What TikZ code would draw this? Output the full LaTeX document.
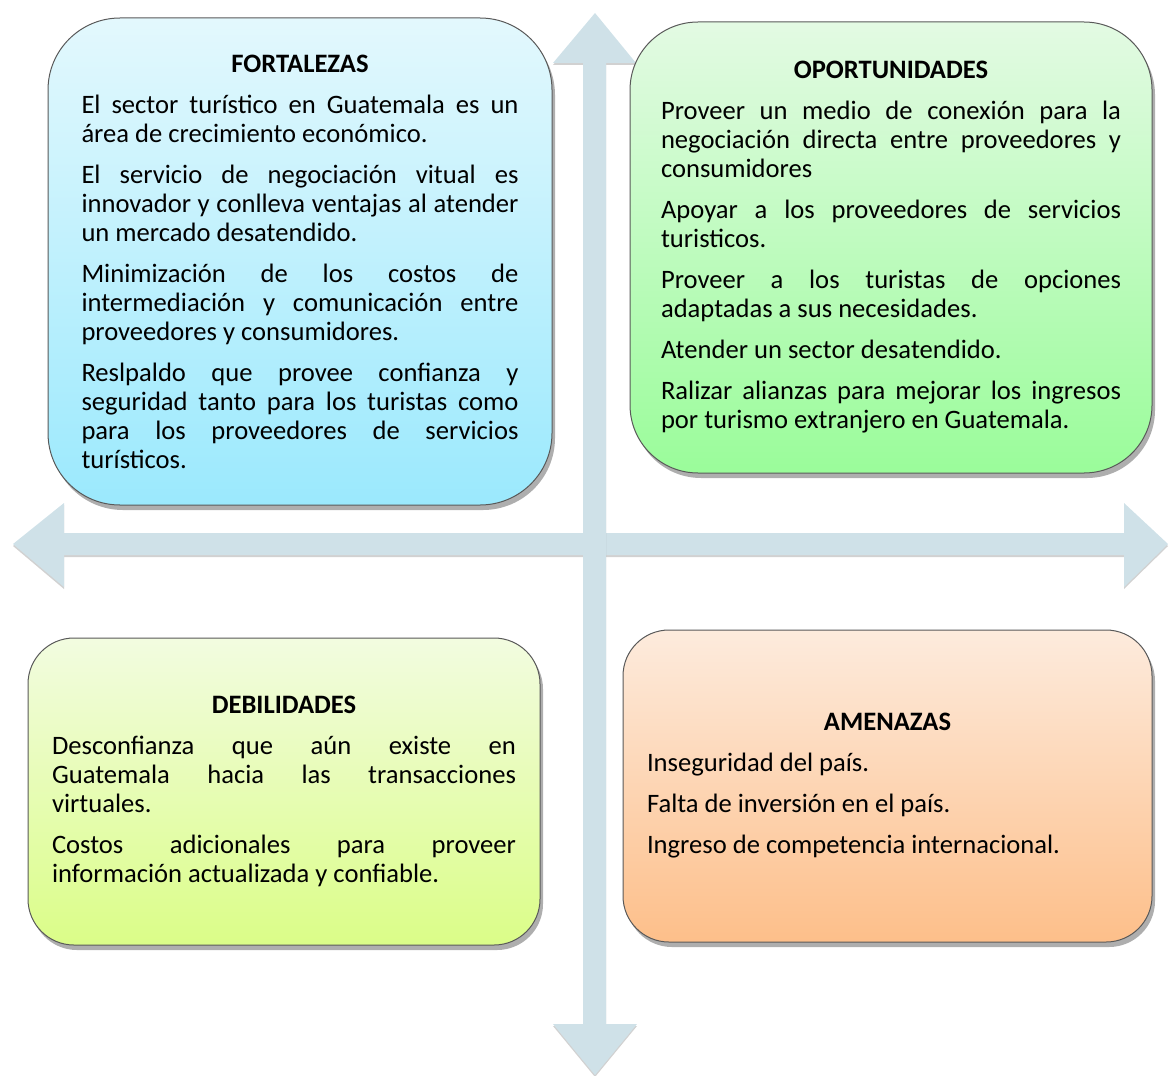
\documentclass[tikz,border=0pt]{standalone}
\usepackage{fontspec}
\setmainfont{Carlito}
\usepackage{tikz}
\usetikzlibrary{shadows}

\definecolor{flecha}{RGB}{207,225,232}
\definecolor{fortA}{RGB}{227,248,253}
\definecolor{fortB}{RGB}{155,233,253}
\definecolor{oporA}{RGB}{227,250,227}
\definecolor{oporB}{RGB}{154,252,154}
\definecolor{debiA}{RGB}{242,252,224}
\definecolor{debiB}{RGB}{219,253,136}
\definecolor{amenA}{RGB}{253,235,221}
\definecolor{amenB}{RGB}{253,191,138}

\begin{document}
\begin{tikzpicture}[x=0.5pt,y=-0.5pt,
  eje/.style={fill=flecha, drop shadow={shadow xshift=0pt, shadow yshift=-1pt, opacity=.18, fill=black}},
  caja/.style={draw=black!65, line width=0.5pt, inner ysep=0pt, align=justify,
    font=\fontsize{13.3}{14.5}\selectfont,
    execute at begin node={\setlength{\parskip}{6pt}\emergencystretch=2em},
    drop shadow={shadow xshift=1.5pt, shadow yshift=-2.5pt, opacity=.45, fill=black!70}}]
\useasboundingbox (0,0) rectangle (1170,1075);
\path[eje] (13,544) -- (64,503) -- (64,533) -- (1124,533) -- (1124,503) -- (1168,544)
  -- (1124,587) -- (1124,555) -- (64,555) -- (64,587) -- cycle;
\path[eje] (595,13) -- (636,63) -- (606,63) -- (606,1024) -- (637,1024) -- (595,1075)
  -- (553,1024) -- (583,1024) -- (583,63) -- (553,63) -- cycle;
\node [caja, rounded corners=36pt, top color=fortA, bottom color=fortB,
  text width=218.5pt, inner xsep=16.75pt, minimum height=243.5pt] (fort) at (300,261.5)
  {{\centering\bfseries FORTALEZAS\par}
  El sector turístico en Guatemala es un\linebreak área de crecimiento económico.\par
  El servicio de negociación vitual es\linebreak innovador y conlleva ventajas al atender\linebreak un mercado desatendido.\par
  Minimización de los costos de\linebreak intermediación y comunicación entre\linebreak proveedores y consumidores.\par
  Reslpaldo que provee confianza y\linebreak seguridad tanto para los turistas como\linebreak para los proveedores de servicios\linebreak turísticos.};
\node [caja, rounded corners=34pt, top color=oporA, bottom color=oporB,
  text width=230pt, inner xsep=15.5pt, minimum height=225.5pt] (opor) at (891,247.5)
  {{\centering\bfseries OPORTUNIDADES\par}
  Proveer un medio de conexión para la\linebreak negociación directa entre proveedores y\linebreak consumidores\par
  Apoyar a los proveedores de servicios\linebreak turisticos.\par
  Proveer a los turistas de opciones\linebreak adaptadas a sus necesidades.\par
  Atender un sector desatendido.\par
  Ralizar alianzas para mejorar los ingresos\linebreak por turismo extranjero en Guatemala.};
\node [caja, rounded corners=23pt, top color=debiA, bottom color=debiB,
  text width=232pt, inner xsep=12pt, minimum height=153.5pt] (debi) at (284,791.5)
  {{\centering\bfseries DEBILIDADES\par}
  Desconfianza que aún existe en\linebreak Guatemala hacia las transacciones\linebreak virtuales.\par
  Costos adicionales para proveer\linebreak información actualizada y confiable.};
\node [caja, rounded corners=23pt, top color=amenA, bottom color=amenB,
  text width=240.5pt, inner xsep=12pt, minimum height=156pt] (amen) at (887.5,786)
  {{\centering\bfseries AMENAZAS\par}
  Inseguridad del país.\par
  Falta de inversión en el país.\par
  Ingreso de competencia internacional.};
\end{tikzpicture}
\end{document}
